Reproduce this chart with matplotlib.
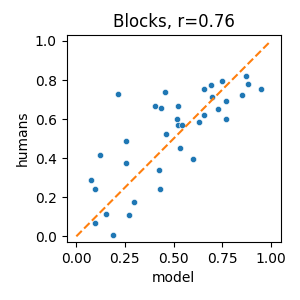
import matplotlib
matplotlib.use('Agg')
import matplotlib.pyplot as plt
import numpy as np

# model vs human scores
model = [0.216, 0.454, 0.407, 0.433, 0.524, 0.519, 0.524, 0.459, 0.535,
         0.258, 0.124, 0.253, 0.423, 0.077, 0.098, 0.428, 0.299, 0.155,
         0.273, 0.098, 0.191, 0.545, 0.598, 0.629, 0.655, 0.655, 0.691,
         0.696, 0.727, 0.747, 0.768, 0.768, 0.851, 0.871, 0.881, 0.948]
humans = [0.728, 0.738, 0.667, 0.656, 0.667, 0.600, 0.569, 0.523, 0.453,
          0.487, 0.415, 0.374, 0.338, 0.287, 0.241, 0.241, 0.174, 0.113,
          0.108, 0.067, 0.005, 0.569, 0.395, 0.585, 0.621, 0.754, 0.774,
          0.713, 0.651, 0.795, 0.692, 0.600, 0.723, 0.821, 0.779, 0.754]
diag = [0, 1]

fig, ax = plt.subplots(figsize=(3, 3), dpi=100)
fig.subplots_adjust(left=0.222, right=0.935, top=0.883, bottom=0.194)

ax.scatter(model, humans, s=20, color='C0', edgecolor='white', linewidth=0.4, zorder=2)
ax.plot(diag, diag, '--', color='C1', zorder=3)

ax.set_xlim(-0.05, 1.05)
ax.set_ylim(-0.028, 1.03)
ax.set_xticks([0, 0.25, 0.5, 0.75, 1.0])
ax.set_yticks([0, 0.2, 0.4, 0.6, 0.8, 1.0])
ax.set_xlabel('model')
ax.set_ylabel('humans')
ax.set_title('Blocks, r=0.76')

fig.savefig('out.png', dpi=100)
